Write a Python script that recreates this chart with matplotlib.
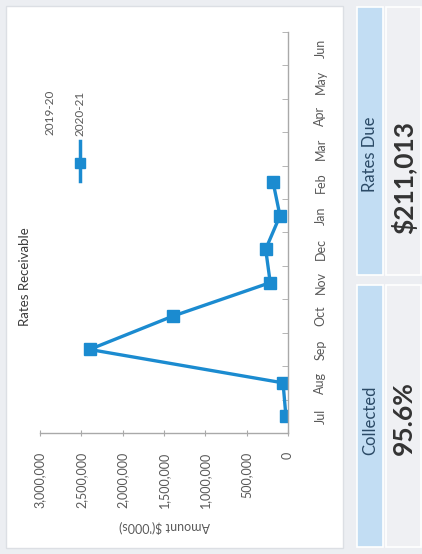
import matplotlib
matplotlib.use("Agg")
import matplotlib.pyplot as plt
import numpy as np
from matplotlib.patches import Rectangle
from matplotlib.lines import Line2D

plt.rcParams['font.family'] = ['Lato', 'DejaVu Sans']

# Rates receivable by month (2020-21 series, Mar-Jun not yet reported)
months = ["Jul", "Aug", "Sep", "Oct", "Nov", "Dec", "Jan", "Feb", "Mar", "Apr", "May", "Jun"]
receivable_2021 = [25000, 60000, 2400000, 1390000, 215000, 270000, 97000, 180000,
                   np.nan, np.nan, np.nan, np.nan]
value_ticks = [0, 500000, 1000000, 1500000, 2000000, 2500000, 3000000]
legend_labels = ["2019-20", "2020-21"]

collected_label, collected_value = "Collected", "95.6%"
due_label, due_value = "Rates Due", "$211,013"

W, H = 422, 554
fig = plt.figure(figsize=(W / 100, H / 100), dpi=100)

# background layer in pixel coordinates (dashboard is laid out rotated)
bg = fig.add_axes([0, 0, 1, 1])
bg.set_xlim(0, W)
bg.set_ylim(H, 0)
bg.axis("off")
bg.add_patch(Rectangle((0, 0), W, H, color="#eceef2"))
bg.add_patch(Rectangle((6, 6), 337, 542, facecolor="white", edgecolor="#dcdfe4", lw=1))

blue = "#1b8bd0"
head_col = "#c2ddf3"
val_col = "#eff0f3"
for y0, y1, lab, val, lab_y, val_y in [(7, 275, due_label, due_value, 154, 178),
                                       (285, 547, collected_label, collected_value, 420, 418)]:
    bg.add_patch(Rectangle((357, y0), 26, y1 - y0, facecolor=head_col, edgecolor="white", lw=1.2))
    bg.add_patch(Rectangle((386, y0), 35, y1 - y0, facecolor=val_col, edgecolor="white", lw=1.2))
    bg.text(370, lab_y, lab, rotation=90, ha="center", va="center",
            fontsize=12, color="#2b4a66")
    bg.text(404, val_y, val, rotation=90, ha="center", va="center",
            fontsize=19, fontweight="bold", color="#333333")

# title, axis title and legend
bg.text(25, 277, "Rates Receivable", rotation=90, ha="center", va="center",
        fontsize=9.5, color="#3a3a3a")
bg.text(165, 527, "Amount $('000s)", rotation=180, ha="center", va="center",
        fontsize=9, color="#595959")
bg.text(50, 112, legend_labels[0], rotation=90, ha="center", va="center",
        fontsize=8.5, color="#595959")
bg.text(80, 113, legend_labels[1], rotation=90, ha="center", va="center",
        fontsize=8.5, color="#595959")
bg.add_line(Line2D([80, 80], [141, 181], color=blue, lw=2.5))
bg.add_line(Line2D([80], [163], color=blue, marker="s", markersize=7.5))

# chart axes: months run upward, amounts run leftward
ax = fig.add_axes([40 / W, (H - 433) / H, 248 / W, 401 / H])
ax.set_facecolor("none")
pos = np.arange(len(months))
ax.plot(receivable_2021, pos, color=blue, lw=2.4, marker="s", markersize=9,
        markerfacecolor=blue, markeredgecolor=blue)

ax.set_xlim(3000000, 0)
ax.set_ylim(-0.5, len(months) - 0.5)
for s in ["top", "left"]:
    ax.spines[s].set_visible(False)
for s in ["bottom", "right"]:
    ax.spines[s].set_color("#a9a9a9")
    ax.spines[s].set_linewidth(1)

ax.set_xticks(value_ticks)
ax.set_xticklabels([f"{v:,}" for v in value_ticks], rotation=90, va="top", ha="center",
                   fontsize=9, color="#595959")
ax.tick_params(axis="x", direction="inout", length=5, color="#a9a9a9", pad=11)

ax.yaxis.tick_right()
ax.set_yticks(pos)
ax.set_yticklabels(months, rotation=90, ha="left", va="center", fontsize=9, color="#595959")
ax.set_yticks(np.arange(-0.5, len(months), 1), minor=True)
ax.tick_params(axis="y", which="major", length=0, pad=19)
ax.tick_params(axis="y", which="minor", direction="in", length=4, color="#a9a9a9")

fig.savefig("out.png", dpi=100)
